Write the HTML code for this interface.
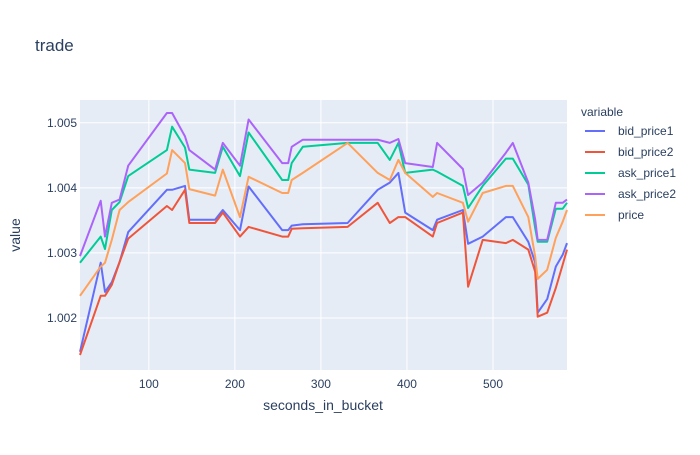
<!DOCTYPE html>
<html><head><meta charset="utf-8"><style>
body{margin:0;background:#fff;font-family:"Liberation Sans",Arial,sans-serif}
</style></head><body>
<svg id="chart" width="700" height="450" xmlns="http://www.w3.org/2000/svg" font-family="Liberation Sans, Arial, sans-serif">
<rect width="700" height="450" fill="#fff"/>
<text x="35" y="51" font-size="17" fill="#2a3f5f">trade</text>
<rect x="80" y="100" width="487" height="270" fill="#e5ecf6"/>
<g id="grid"></g><g id="series"></g><g id="ticks"></g>
<text x="323" y="410" font-size="14" fill="#2a3f5f" text-anchor="middle">seconds_in_bucket</text>
<text transform="translate(20,235) rotate(-90)" font-size="14" fill="#2a3f5f" text-anchor="middle">value</text>
<text x="581" y="116" font-size="12" fill="#2a3f5f">variable</text>
<g id="legend"></g>
</svg>
<script>
const seconds=[20,44,49,57,66,76,121,127,142,147,177,186,206,216,255,262,266,279,331,366,380,390,398,430,435,465,471,488,515,523,541,549,552,563,573,581,586];
const bidPrice1=[1.00148,1.00285,1.0024,1.00255,1.00286,1.00332,1.00397,1.00397,1.00403,1.00351,1.00351,1.00366,1.00335,1.00402,1.00335,1.00335,1.00342,1.00344,1.00346,1.00397,1.00408,1.00423,1.00362,1.00335,1.00351,1.00366,1.00314,1.00325,1.00355,1.00355,1.00317,1.00285,1.00208,1.00229,1.00279,1.00297,1.00315];
const bidPrice2=[1.00143,1.00234,1.00234,1.00251,1.00286,1.00322,1.00372,1.00366,1.00397,1.00346,1.00346,1.00362,1.00325,1.0034,1.00325,1.00325,1.00337,1.00338,1.0034,1.00377,1.00346,1.00355,1.00355,1.00325,1.00346,1.00362,1.00248,1.0032,1.00315,1.0032,1.00305,1.00271,1.00202,1.00208,1.00246,1.00282,1.00305];
const askPrice1=[1.00285,1.00325,1.00306,1.00366,1.00378,1.00418,1.00458,1.00494,1.00462,1.00428,1.00423,1.00463,1.00418,1.00485,1.00412,1.00412,1.00438,1.00463,1.00469,1.00469,1.00443,1.00469,1.00423,1.00428,1.00425,1.00403,1.00369,1.00403,1.00445,1.00445,1.00405,1.00338,1.00317,1.00317,1.00368,1.00368,1.00377];
const askPrice2=[1.00295,1.0038,1.00325,1.00377,1.00382,1.00434,1.00515,1.00515,1.00479,1.00458,1.00428,1.00469,1.00434,1.00505,1.00438,1.00438,1.00463,1.00474,1.00474,1.00474,1.00469,1.00475,1.00438,1.00432,1.00469,1.00429,1.00389,1.00408,1.00454,1.00469,1.00408,1.00351,1.0032,1.0032,1.00377,1.00377,1.00382];
const price=[1.00234,1.00279,1.00285,1.0032,1.00366,1.00378,1.00422,1.00458,1.00438,1.00398,1.00388,1.00428,1.00355,1.00417,1.00392,1.00392,1.00412,1.00423,1.00469,1.00423,1.00412,1.00443,1.00423,1.00386,1.00392,1.00377,1.00348,1.00392,1.00403,1.00403,1.00355,1.00294,1.0026,1.00274,1.00323,1.00348,1.00366];
const xTicks=[100,200,300,400,500];
const yTicks=[1.002,1.003,1.004,1.005];
const seriesNames=["bid_price1","bid_price2","ask_price1","ask_price2","price"];
const seriesColors=["#636efa","#EF553B","#00cc96","#ab63fa","#FFA15A"];
const seriesData=[bidPrice1,bidPrice2,askPrice1,askPrice2,price];

const X0=80,X1=567,Y0=370,Y1=100,xMin=20,xMax=586,yMin=1.0012,yMax=1.00535;
const xs=v=>X0+(v-xMin)/(xMax-xMin)*(X1-X0);
const ys=v=>Y0-(v-yMin)/(yMax-yMin)*(Y0-Y1);
const NS="http://www.w3.org/2000/svg";
function mk(tag,attrs,parent){const e=document.createElementNS(NS,tag);for(const k in attrs)e.setAttribute(k,attrs[k]);parent.appendChild(e);return e;}
const grid=document.getElementById('grid'),ticks=document.getElementById('ticks'),ser=document.getElementById('series'),leg=document.getElementById('legend');
xTicks.forEach(t=>{
  const l=mk('line',{x1:xs(t),x2:xs(t),y1:Y1,y2:Y0,stroke:'#fff','stroke-width':1},grid);
  
  
  const tx=mk('text',{x:xs(t),y:388,'font-size':12,fill:'#2a3f5f','text-anchor':'middle'},ticks);
  tx.textContent=t;
  
  
});
yTicks.forEach(t=>{
  const l=mk('line',{x1:X0,x2:X1,y1:ys(t),y2:ys(t),stroke:'#fff','stroke-width':1},grid);
  
  
  const tx=mk('text',{x:77,y:ys(t)+4,'font-size':12,fill:'#2a3f5f','text-anchor':'end'},ticks);
  tx.textContent=t.toFixed(3);
  
  
});
seriesData.forEach((d,i)=>{
  const pts=d.map((v,j)=>xs(seconds[j]).toFixed(1)+','+ys(v).toFixed(1)).join(' ');
  const p=mk('polyline',{points:pts,fill:'none',stroke:seriesColors[i],'stroke-width':2,'stroke-linejoin':'round'},ser);
  
  
  const y=131+i*21;
  const g=mk('g',{},leg);
  
  
  mk('line',{x1:585,x2:605,y1:y,y2:y,stroke:seriesColors[i],'stroke-width':2},g);
  const t=mk('text',{x:618,y:y+4,'font-size':12,fill:'#2a3f5f'},g);
  t.textContent=seriesNames[i];
});
</script>
</body></html>
